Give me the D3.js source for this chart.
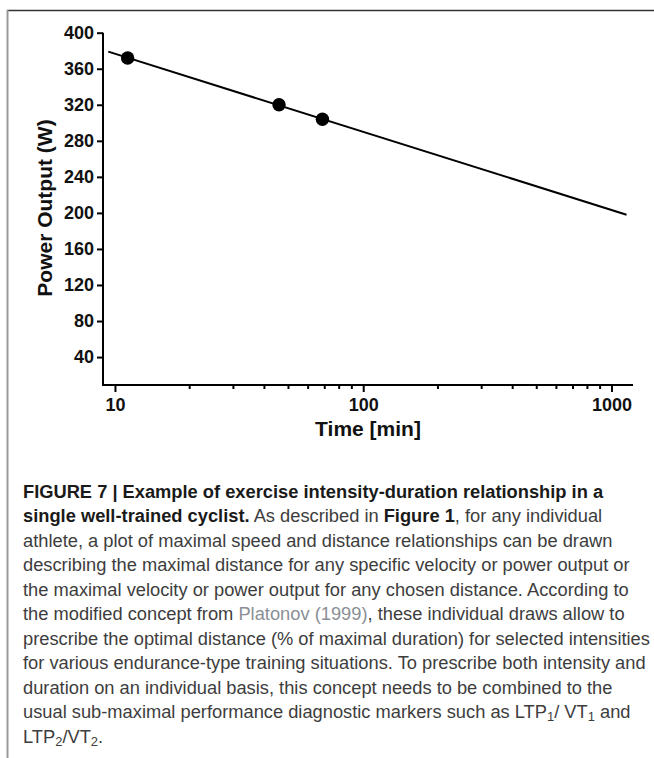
<!DOCTYPE html>
<html><head><meta charset="utf-8">
<script src="https://cdn.jsdelivr.net/npm/d3@7"></script>
<style>
html,body{margin:0;padding:0;background:#fff;}
svg{display:block;}
</style></head>
<body>
<svg id="chart" width="654" height="758"></svg>
<script>
// ---- data ----
const timeMin = [11.25, 45.8, 68.5];
const powerW  = [372, 320, 304];
const fitTime  = [9.4, 1150];
const fitPower = [379, 198];
const yTicks = [40, 80, 120, 160, 200, 240, 280, 320, 360, 400];
const xMajorTicks = [10, 100, 1000];
const xMinorTicks = [20,30,40,50,60,70,80,90,200,300,400,500,600,700,800,900];
const xTitle = "Time [min]";
const yTitle = "Power Output (W)";
const captionLines = [
  [{t:"FIGURE 7 | Example of exercise intensity-duration relationship in a", b:true}],
  [{t:"single well-trained cyclist.", b:true},{t:" As described in "},{t:"Figure 1", b:true},{t:", for any individual"}],
  [{t:"athlete, a plot of maximal speed and distance relationships can be drawn"}],
  [{t:"describing the maximal distance for any specific velocity or power output or"}],
  [{t:"the maximal velocity or power output for any chosen distance. According to"}],
  [{t:"the modified concept from "},{t:"Platonov (1999)", l:true},{t:", these individual draws allow to"}],
  [{t:"prescribe the optimal distance (% of maximal duration) for selected intensities"}],
  [{t:"for various endurance-type training situations. To prescribe both intensity and"}],
  [{t:"duration on an individual basis, this concept needs to be combined to the"}],
  [{t:"usual sub-maximal performance diagnostic markers such as LTP"},{t:"1",s:true},{t:"/ VT"},{t:"1",s:true},{t:" and"}],
  [{t:"LTP"},{t:"2",s:true},{t:"/VT"},{t:"2",s:true},{t:"."}]
];

// ---- drawing ----
const svg = d3.select("#chart");
const font = "'Liberation Sans', Arial, Helvetica, sans-serif";

// frame
svg.append("line").attr("x1",7).attr("x2",654).attr("y1",10.5).attr("y2",10.5)
  .attr("stroke","#333").attr("stroke-width",1.3);
svg.append("line").attr("x1",7.5).attr("x2",7.5).attr("y1",10).attr("y2",758)
  .attr("stroke","#999").attr("stroke-width",2);

const x = d3.scaleLog().domain([8.95, 1221]).range([103, 633]);
const y = d3.scaleLinear().domain([9, 400]).range([385, 32.7]);

const g = svg.append("g").attr("font-family", font);

// y axis
const yAxis = g.append("g").attr("transform","translate(103,0)")
  .call(d3.axisLeft(y).tickValues(yTicks).tickSize(6).tickPadding(3).tickSizeOuter(0));
yAxis.select(".domain").remove();
yAxis.append("line").attr("x1",0).attr("x2",0).attr("y1",y(400)).attr("y2",y(9)+1)
  .attr("stroke","#000").attr("stroke-width",2);
yAxis.selectAll(".tick line").attr("stroke","#000").attr("stroke-width",2);
yAxis.selectAll(".tick text").attr("font-family",font).attr("font-size",18)
  .attr("font-weight","bold").attr("fill","#111");

// x axis
const xAxis = g.append("g").attr("transform","translate(0,385)")
  .call(d3.axisBottom(x).tickValues(xMajorTicks).tickSize(7).tickPadding(6)
    .tickFormat(d3.format("d")).tickSizeOuter(0));
xAxis.select(".domain").remove();
xAxis.append("line").attr("x1",102).attr("x2",633).attr("y1",0).attr("y2",0)
  .attr("stroke","#000").attr("stroke-width",2);
xAxis.selectAll(".tick line").attr("stroke","#000").attr("stroke-width",2);
xAxis.selectAll(".tick text").attr("font-family",font).attr("font-size",18)
  .attr("font-weight","bold").attr("fill","#111");
xAxis.selectAll(".minor").data(xMinorTicks).enter().append("line")
  .attr("class","minor")
  .attr("x1",d=>x(d)).attr("x2",d=>x(d)).attr("y1",0).attr("y2",4)
  .attr("stroke","#000").attr("stroke-width",2);

// titles
g.append("text").attr("x",368).attr("y",436).attr("text-anchor","middle")
  .attr("font-size",21).attr("font-weight","bold").attr("fill","#111").text(xTitle);
g.append("text").attr("transform","translate(52,208) rotate(-90)").attr("text-anchor","middle")
  .attr("font-size",21).attr("font-weight","bold").attr("fill","#111").text(yTitle);

// fit line
const fit = fitTime.map((t,i)=>[t, fitPower[i]]);
g.append("path").datum(fit)
  .attr("d", d3.line().x(d=>x(d[0])).y(d=>y(d[1])))
  .attr("fill","none").attr("stroke","#000").attr("stroke-width",2);

// points
g.selectAll(".pt").data(timeMin.map((t,i)=>[t, powerW[i]])).enter()
  .append("circle").attr("class","pt")
  .attr("cx",d=>x(d[0])).attr("cy",d=>y(d[1])).attr("r",6.7).attr("fill","#000");

// caption
const cap = svg.append("g").attr("font-family", font).attr("font-size",18.3);
captionLines.forEach((segs,i)=>{
  const t = cap.append("text").attr("x",23).attr("y",497.5 + i*24.5).attr("fill","#3d3d3d");
  segs.forEach(s=>{
    const ts = t.append("tspan").text(s.t);
    if (s.b) ts.attr("font-weight","bold").attr("fill","#1a1a1a");
    if (s.l) ts.attr("fill","#8a8f96");
    if (s.s) { ts.attr("font-size",13).attr("baseline-shift","-25%"); }
  });
  // keep the widest lines inside the frame
  const w = t.node().getComputedTextLength();
  if (w > 640) t.attr("textLength", 640).attr("lengthAdjust","spacingAndGlyphs");
});
</script>
</body></html>
